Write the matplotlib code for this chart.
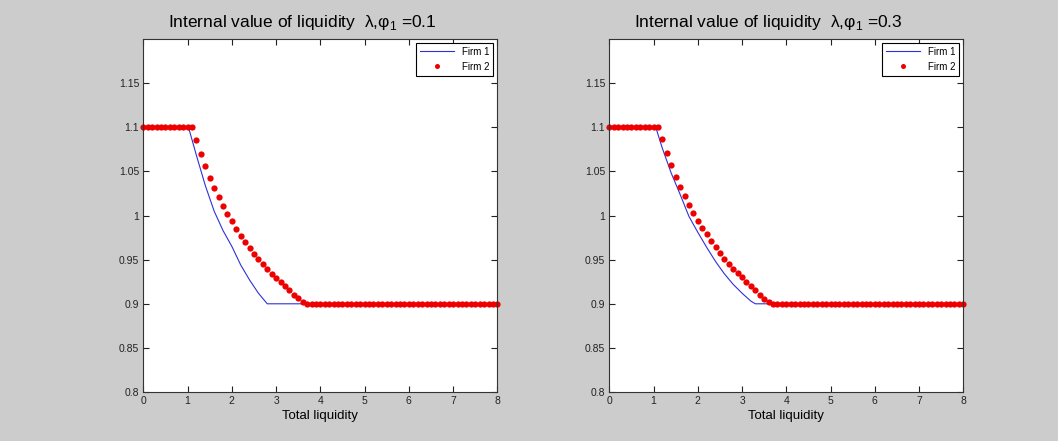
import matplotlib.pyplot as plt
import numpy as np

# data
params = ["0.1", "0.3"]

# Firm 2 (dots) sampled every 0.1 from 0 to 8
x_dots = np.round(np.arange(0, 8.05, 0.1), 1)
drop_left = [1.0856, 1.0701, 1.0561, 1.0429, 1.0312, 1.0206, 1.0111, 1.0013, 0.9934,
             0.9850, 0.9767, 0.9696, 0.9628, 0.9567, 0.9507, 0.9447, 0.9390, 0.9340,
             0.9291, 0.9246, 0.9197, 0.9152, 0.9102, 0.9061, 0.9023]
drop_right = [1.0867, 1.0712, 1.0573, 1.0440, 1.0324, 1.0218, 1.0123, 1.0029, 0.9938,
              0.9862, 0.9791, 0.9712, 0.9647, 0.9579, 0.9508, 0.9451, 0.9394, 0.9346,
              0.9300, 0.9250, 0.9205, 0.9153, 0.9100, 0.9050, 0.9017]
firm2_left = [1.1] * 12 + drop_left + [0.9] * 44
firm2_right = [1.1] * 12 + drop_right + [0.9] * 44

# Firm 1 (line) break points
firm1_left_x = [0, 1.02, 1.2, 1.4, 1.6, 1.8, 2.0, 2.2, 2.4, 2.6, 2.8, 8]
firm1_left_y = [1.1, 1.1, 1.068, 1.034, 1.005, 0.983, 0.965, 0.944, 0.927, 0.912, 0.9, 0.9]
firm1_right_x = [0, 1.05, 1.2, 1.4, 1.6, 1.8, 2.0, 2.2, 2.4, 2.6, 2.8, 3.0, 3.2, 3.3, 8]
firm1_right_y = [1.1, 1.1, 1.076, 1.048, 1.024, 0.999, 0.981, 0.964, 0.948, 0.934,
                 0.922, 0.912, 0.903, 0.9, 0.9]

yticks = [0.8, 0.85, 0.9, 0.95, 1.0, 1.05, 1.1, 1.15]
ytick_labels = ["0.8", "0.85", "0.9", "0.95", "1", "1.05", "1.1", "1.15"]

plt.rcParams['font.family'] = ['Liberation Sans', 'DejaVu Sans']
plt.rcParams['mathtext.fontset'] = 'custom'
plt.rcParams['mathtext.rm'] = 'Liberation Sans'

fig = plt.figure(figsize=(10.58, 4.41), dpi=100, facecolor='#cccccc')
positions = [[0.1355, 0.111, 0.3346, 0.8005], [0.5759, 0.111, 0.3346, 0.8005]]
lines = [(firm1_left_x, firm1_left_y, firm2_left), (firm1_right_x, firm1_right_y, firm2_right)]

for pos, p, (lx, ly, dots) in zip(positions, params, lines):
    ax = fig.add_axes(pos)
    ax.plot(lx, ly, color='#3030d8', lw=0.8, label='Firm 1')
    ax.plot(x_dots, dots, 'o', color='#ee0000', markersize=4.5, markeredgewidth=0,
            label='Firm 2', clip_on=False)
    ax.set_xlim(0, 8)
    ax.set_ylim(0.8, 1.2)
    ax.set_xticks(range(9))
    ax.set_yticks(yticks)
    ax.set_yticklabels(ytick_labels)
    ax.tick_params(direction='in', top=True, right=True, labelsize=7.5, length=4,
                   width=0.8, colors='#222222', pad=3)
    for s in ax.spines.values():
        s.set_color('#333333')
        s.set_linewidth(0.8)
    ax.set_title('Internal value of liquidity  λ,φ$_\\mathregular{1}$ =' + p,
                 fontsize=12.5, pad=9, x=0.45)
    ax.set_xlabel('Total liquidity', fontsize=9.5, labelpad=3)
    leg = ax.legend(loc='upper right', fontsize=7, fancybox=False, framealpha=1,
                    edgecolor='black', handlelength=3.5, borderaxespad=0.4,
                    markerscale=0.8)
    leg.get_frame().set_linewidth(0.8)

plt.savefig('out.png', dpi=100, facecolor=fig.get_facecolor())
